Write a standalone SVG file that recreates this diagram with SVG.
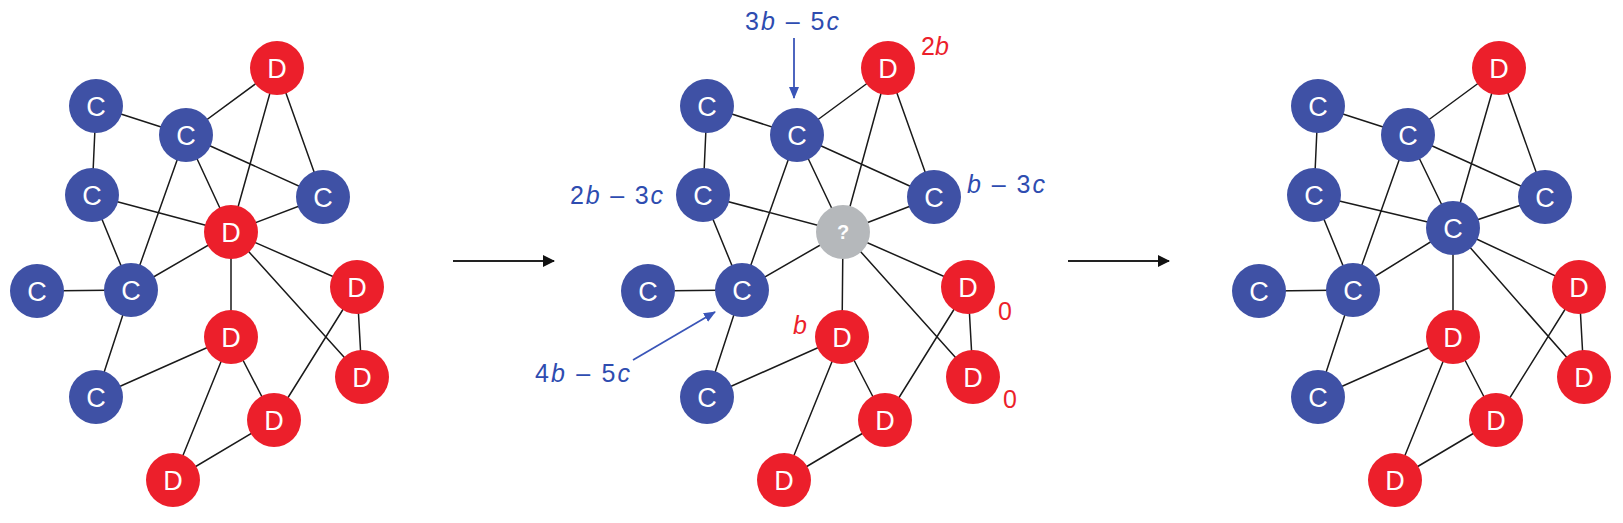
<svg xmlns="http://www.w3.org/2000/svg" width="1623" height="523" viewBox="0 0 1623 523">
<defs>
<style>
.e{stroke:#1a1a1a;stroke-width:1.5;fill:none}
.c circle{fill:#3f51a5}
.d circle{fill:#ec1f2b}
.q circle{fill:#b5b8bb}
.n text{fill:#fff;font-family:"Liberation Sans",Arial,sans-serif;font-size:27px;text-anchor:middle}
.q text{font-size:20px;font-weight:bold}
.lb{fill:#2e4cb0;font-family:"Liberation Sans",Arial,sans-serif;font-size:25px}
.lr{fill:#ec1f2b;font-family:"Liberation Sans",Arial,sans-serif;font-size:25px}
.i{font-style:italic}
.ab{stroke:#3a55b8;stroke-width:1.8;fill:none}
.ak{stroke:#222;stroke-width:1.8;fill:none}
</style>
<marker id="mk" viewBox="0 0 12 12" refX="11" refY="6" markerWidth="12" markerHeight="12" markerUnits="userSpaceOnUse" orient="auto"><path d="M0,0 L12,6 L0,12 Z" fill="#111"/></marker>
<marker id="mb" viewBox="0 0 12 10" refX="11" refY="5" markerWidth="12" markerHeight="10" markerUnits="userSpaceOnUse" orient="auto"><path d="M0,0 L12,5 L0,10 Z" fill="#3a55b8"/></marker>
</defs>
<rect width="1623" height="523" fill="#fff"/>

<g id="connectors">
<g id="edges-g1" transform="translate(0,0)">
<path class="e" d="M277,68L186,135M277,68L231,232M277,68L323,197M96,106L186,135M96,106L92,195M186,135L323,197M186,135L231,232M186,135L131,290M92,195L231,232M92,195L131,290M323,197L231,232M37,291L131,290M131,290L231,232M131,290L96,397M231,232L357,287M231,232L231,337M231,232L362,377M357,287L362,377M357,287L274,420M231,337L96,397M231,337L274,420M231,337L173,480M274,420L173,480"/>
</g>
<g id="edges-g2" transform="translate(611,0)">
<path class="e" d="M277,68L186,135M277,68L232,232M277,68L323,197M96,106L186,135M96,106L92,195M186,135L323,197M186,135L232,232M186,135L131,290M92,195L232,232M92,195L131,290M323,197L232,232M37,291L131,290M131,290L232,232M131,290L96,397M232,232L357,287M232,232L231,337M232,232L362,377M357,287L362,377M357,287L274,420M231,337L96,397M231,337L274,420M231,337L173,480M274,420L173,480"/>
</g>
<g id="edges-g3" transform="translate(1222,0)">
<path class="e" d="M277,68L186,135M277,68L231,228M277,68L323,197M96,106L186,135M96,106L92,195M186,135L323,197M186,135L231,228M186,135L131,290M92,195L231,228M92,195L131,290M323,197L231,228M37,291L131,290M131,290L231,228M131,290L96,397M231,228L357,287M231,228L231,337M231,228L362,377M357,287L362,377M357,287L274,420M231,337L96,397M231,337L274,420M231,337L173,480M274,420L173,480"/>
</g>
<path id="arrow1" class="ak" d="M453,261L554,261" marker-end="url(#mk)"/>
<path id="arrow2" class="ak" d="M1068,261L1169,261" marker-end="url(#mk)"/>
<path id="arrow-3b5c" class="ab" d="M794,38L794,98" marker-end="url(#mb)"/>
<path id="arrow-4b5c" class="ab" d="M633,360L715,312" marker-end="url(#mb)"/>
</g>

<g id="graph1">
<g id="g1-Dt" class="n d"><circle cx="277" cy="68" r="27"/><text x="277" y="78">D</text></g>
<g id="g1-C1" class="n c"><circle cx="96" cy="106" r="27"/><text x="96" y="116">C</text></g>
<g id="g1-C2" class="n c"><circle cx="186" cy="135" r="27"/><text x="186" y="145">C</text></g>
<g id="g1-C3" class="n c"><circle cx="92" cy="195" r="27"/><text x="92" y="205">C</text></g>
<g id="g1-C4" class="n c"><circle cx="323" cy="197" r="27"/><text x="323" y="207">C</text></g>
<g id="g1-X" class="n d"><circle cx="231" cy="232" r="27"/><text x="231" y="242">D</text></g>
<g id="g1-C5" class="n c"><circle cx="37" cy="291" r="27"/><text x="37" y="301">C</text></g>
<g id="g1-C6" class="n c"><circle cx="131" cy="290" r="27"/><text x="131" y="300">C</text></g>
<g id="g1-Dr" class="n d"><circle cx="357" cy="287" r="27"/><text x="357" y="297">D</text></g>
<g id="g1-Dm" class="n d"><circle cx="231" cy="337" r="27"/><text x="231" y="347">D</text></g>
<g id="g1-Dfr" class="n d"><circle cx="362" cy="377" r="27"/><text x="362" y="387">D</text></g>
<g id="g1-C7" class="n c"><circle cx="96" cy="397" r="27"/><text x="96" y="407">C</text></g>
<g id="g1-Db" class="n d"><circle cx="274" cy="420" r="27"/><text x="274" y="430">D</text></g>
<g id="g1-Dbl" class="n d"><circle cx="173" cy="480" r="27"/><text x="173" y="490">D</text></g>
</g>

<g id="graph2" transform="translate(611,0)">
<g id="g2-Dt" class="n d"><circle cx="277" cy="68" r="27"/><text x="277" y="78">D</text></g>
<g id="g2-C1" class="n c"><circle cx="96" cy="106" r="27"/><text x="96" y="116">C</text></g>
<g id="g2-C2" class="n c"><circle cx="186" cy="135" r="27"/><text x="186" y="145">C</text></g>
<g id="g2-C3" class="n c"><circle cx="92" cy="195" r="27"/><text x="92" y="205">C</text></g>
<g id="g2-C4" class="n c"><circle cx="323" cy="197" r="27"/><text x="323" y="207">C</text></g>
<g id="g2-X" class="n q"><circle cx="232" cy="232" r="27"/><text x="232" y="239">?</text></g>
<g id="g2-C5" class="n c"><circle cx="37" cy="291" r="27"/><text x="37" y="301">C</text></g>
<g id="g2-C6" class="n c"><circle cx="131" cy="290" r="27"/><text x="131" y="300">C</text></g>
<g id="g2-Dr" class="n d"><circle cx="357" cy="287" r="27"/><text x="357" y="297">D</text></g>
<g id="g2-Dm" class="n d"><circle cx="231" cy="337" r="27"/><text x="231" y="347">D</text></g>
<g id="g2-Dfr" class="n d"><circle cx="362" cy="377" r="27"/><text x="362" y="387">D</text></g>
<g id="g2-C7" class="n c"><circle cx="96" cy="397" r="27"/><text x="96" y="407">C</text></g>
<g id="g2-Db" class="n d"><circle cx="274" cy="420" r="27"/><text x="274" y="430">D</text></g>
<g id="g2-Dbl" class="n d"><circle cx="173" cy="480" r="27"/><text x="173" y="490">D</text></g>
</g>

<g id="graph3" transform="translate(1222,0)">
<g id="g3-Dt" class="n d"><circle cx="277" cy="68" r="27"/><text x="277" y="78">D</text></g>
<g id="g3-C1" class="n c"><circle cx="96" cy="106" r="27"/><text x="96" y="116">C</text></g>
<g id="g3-C2" class="n c"><circle cx="186" cy="135" r="27"/><text x="186" y="145">C</text></g>
<g id="g3-C3" class="n c"><circle cx="92" cy="195" r="27"/><text x="92" y="205">C</text></g>
<g id="g3-C4" class="n c"><circle cx="323" cy="197" r="27"/><text x="323" y="207">C</text></g>
<g id="g3-X" class="n c"><circle cx="231" cy="228" r="27"/><text x="231" y="238">C</text></g>
<g id="g3-C5" class="n c"><circle cx="37" cy="291" r="27"/><text x="37" y="301">C</text></g>
<g id="g3-C6" class="n c"><circle cx="131" cy="290" r="27"/><text x="131" y="300">C</text></g>
<g id="g3-Dr" class="n d"><circle cx="357" cy="287" r="27"/><text x="357" y="297">D</text></g>
<g id="g3-Dm" class="n d"><circle cx="231" cy="337" r="27"/><text x="231" y="347">D</text></g>
<g id="g3-Dfr" class="n d"><circle cx="362" cy="377" r="27"/><text x="362" y="387">D</text></g>
<g id="g3-C7" class="n c"><circle cx="96" cy="397" r="27"/><text x="96" y="407">C</text></g>
<g id="g3-Db" class="n d"><circle cx="274" cy="420" r="27"/><text x="274" y="430">D</text></g>
<g id="g3-Dbl" class="n d"><circle cx="173" cy="480" r="27"/><text x="173" y="490">D</text></g>
</g>

<g id="labels">
<text class="lb" x="745" y="30" textLength="94" lengthAdjust="spacing">3<tspan class="i">b</tspan> – 5<tspan class="i">c</tspan></text>
<text class="lr" x="921" y="55">2<tspan class="i">b</tspan></text>
<text class="lb" x="570" y="204" textLength="93" lengthAdjust="spacing">2<tspan class="i">b</tspan> – 3<tspan class="i">c</tspan></text>
<text class="lb" x="967" y="193" textLength="78" lengthAdjust="spacing"><tspan class="i">b</tspan> – 3<tspan class="i">c</tspan></text>
<text class="lb" x="535" y="382" textLength="95" lengthAdjust="spacing">4<tspan class="i">b</tspan> – 5<tspan class="i">c</tspan></text>
<text class="lr i" x="793" y="334">b</text>
<text class="lr" x="998" y="320">0</text>
<text class="lr" x="1003" y="408">0</text>
</g>
</svg>
